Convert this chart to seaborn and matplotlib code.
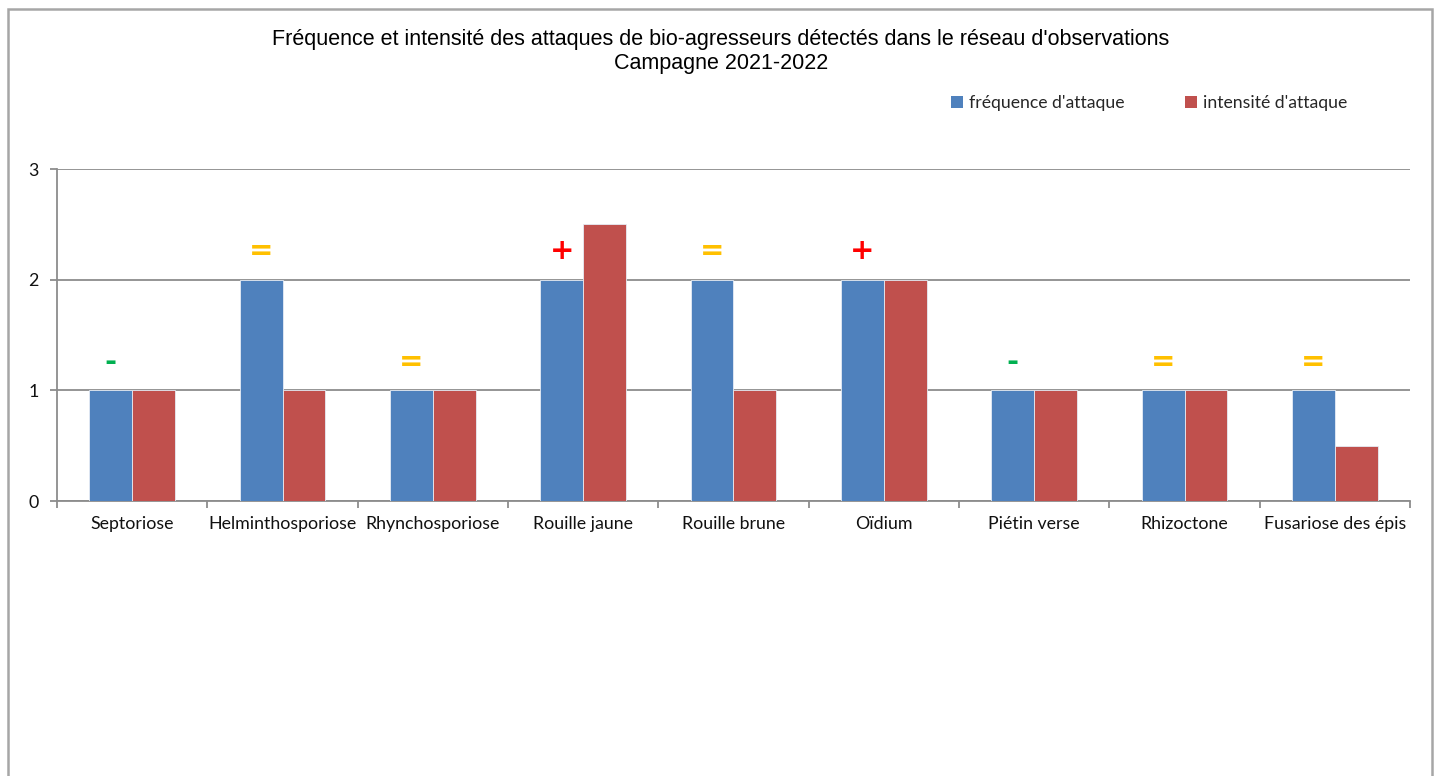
import matplotlib

matplotlib.use("Agg")
import matplotlib.pyplot as plt
from matplotlib.patches import Patch, Rectangle
import numpy as np
import pandas as pd
import seaborn as sns

categories = ["Septoriose", "Helminthosporiose", "Rhynchosporiose", "Rouille jaune",
              "Rouille brune", "Oïdium", "Piétin verse", "Rhizoctone", "Fusariose des épis"]
frequence = [1, 2, 1, 2, 2, 2, 1, 1, 1]
intensite = [1, 1, 1, 2.5, 1, 2, 1, 1, 0.5]
tendance = ["-", "=", "=", "+", "=", "+", "-", "=", "="]
series = ["fréquence d'attaque", "intensité d'attaque"]

trend_colors = {"-": "#00B050", "=": "#FFC000", "+": "#FF0000"}
palette = {series[0]: "#4F81BD", series[1]: "#C0504D"}
grid_col = "#8C8C8C"

df = pd.DataFrame({
    "categorie": categories * 2,
    "valeur": frequence + intensite,
    "serie": [series[0]] * len(categories) + [series[1]] * len(categories),
})

sns.set_theme(style="white")
plt.rcParams["font.family"] = ["Lato", "DejaVu Sans"]

fig = plt.figure(figsize=(14.42, 7.76), dpi=100)
ax = fig.add_axes([57 / 1442, 1 - 501 / 776, (1410 - 57) / 1442, (501 - 169) / 776])

sns.barplot(data=df, x="categorie", y="valeur", hue="serie", palette=palette,
            saturation=1, width=0.572, gap=0, edgecolor="#E6ECF5", linewidth=0.6,
            legend=False, ax=ax, zorder=3)

ax.set_ylim(0, 3)
ax.set_xlim(-0.5, len(categories) - 0.5)
ax.set_yticks([0, 1, 2, 3])
ax.yaxis.grid(True, color=grid_col, linewidth=1.3, zorder=0)
ax.set_axisbelow(True)
ax.set_xlabel("")
ax.set_ylabel("")
for side in ["top", "right"]:
    ax.spines[side].set_visible(False)
for side in ["left", "bottom"]:
    ax.spines[side].set_color(grid_col)
    ax.spines[side].set_linewidth(1.3)

ax.tick_params(axis="y", which="major", length=5, width=1.3, color=grid_col,
               labelsize=12.8, pad=8, left=True)
ax.tick_params(axis="x", which="major", length=0, labelsize=12.8, pad=11)
ax.set_xticks(np.arange(-0.5, len(categories), 1.0), minor=True)
ax.tick_params(axis="x", which="minor", length=5, width=1.3, color=grid_col, bottom=True)
for lbl in ax.get_xticklabels() + ax.get_yticklabels():
    lbl.set_color("#111111")

# trend signs above the frequency bars
for i, (v, t) in enumerate(zip(frequence, tendance)):
    ax.text(i - 0.143, v + 0.26, t, ha="center", va="center", fontsize=21,
            fontweight="bold", color=trend_colors[t], family="DejaVu Sans", zorder=4)

title_font = ["Liberation Sans", "DejaVu Sans"]
fig.text(0.5, 1 - 40 / 776, "Fréquence et intensité des attaques de bio-agresseurs détectés dans le réseau d'observations",
         ha="center", va="center", fontsize=15.5, color="black", family=title_font)
fig.text(0.5, 1 - 63 / 776, "Campagne 2021-2022",
         ha="center", va="center", fontsize=15.5, color="black", family=title_font)

handles = [Patch(facecolor=palette[s], edgecolor="none") for s in series]
fig.legend(handles, series, loc="center", bbox_to_anchor=(1149 / 1442, 1 - 103 / 776),
           ncol=2, frameon=False, fontsize=12.7, handlelength=0.7, handleheight=0.7,
           handletextpad=0.35, columnspacing=3.4)

fig.patches.append(Rectangle((7.5 / 1442, -0.1), (1432 - 7.5) / 1442, 1.1 - 9 / 776,
                             transform=fig.transFigure, fill=False,
                             edgecolor="#A6A6A6", linewidth=1.8))

fig.savefig("out.png", dpi=100)
